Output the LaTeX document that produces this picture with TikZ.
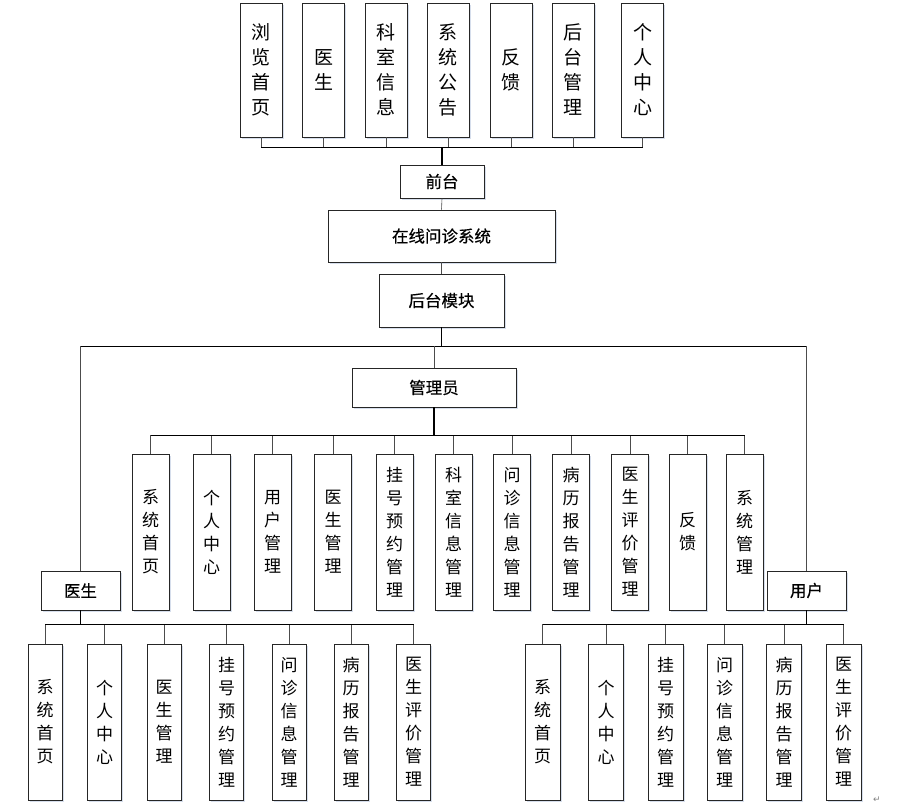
\documentclass[tikz,border=0pt]{standalone}
\usepackage{fontspec}
\setmainfont{Noto Sans CJK SC}
\newfontfamily\hfont[FakeBold=0.4]{Noto Sans CJK SC}
\newfontfamily\symfont{DejaVu Sans}
\usetikzlibrary{shadows}
\definecolor{shadowblue}{RGB}{214,222,236}
\tikzset{
  box/.style={draw=black!85, line width=0.9pt, fill=white, inner sep=0pt,
    drop shadow={shadow xshift=1.5pt, shadow yshift=-1.5pt, fill=shadowblue, opacity=1}},
  hbox/.style={box, font=\hfont\fontsize{16.5}{19}\selectfont},
  vbox/.style={box, align=center, font=\fontsize{17}{23}\selectfont},
  topbox/.style={box, align=center, font=\fontsize{19}{25}\selectfont,
    minimum width=42, minimum height=134},
  stem/.style={draw=black!70, line width=0.6pt},
  bus/.style={draw=black, line width=0.9pt},
  trunk/.style={draw=black, line width=1.6pt},
}

\begin{document}
\begin{tikzpicture}[x=1pt,y=-1pt]
  \useasboundingbox (0,0) rectangle (909,807);
  % bus levels
  \coordinate (tbus) at (0,147);
  \coordinate (split) at (0,346);
  \coordinate (abus) at (0,435);
  \coordinate (lbus) at (0,624);
  % front-end modules
  \foreach \n/\x/\lbl in {1/261/{浏\\览\\首\\页}, 2/323.5/{医\\生}, 3/386/{科\\室\\信\\息},
      4/448/{系\\统\\公\\告}, 5/511/{反\\馈}, 6/573/{后\\台\\管\\理}, 7/642.5/{个\\人\\中\\心}}{
    \node[topbox] (t\n) at (\x,70) {\lbl};
    \draw[stem] (t\n.south) -- (t\n.south |- tbus);}
  \draw[bus] (t1.south |- tbus) -- (t7.south |- tbus);
  % main chain
  \node[hbox, minimum width=84, minimum height=33] (front) at (442,181.5) {前台};
  \node[hbox, minimum width=227, minimum height=52] (sys) at (441.5,236) {在线问诊系统};
  \node[hbox, minimum width=125, minimum height=53] (back) at (441.5,300.5) {后台模块};
  \draw[trunk] (front.north) -- (front.north |- tbus);
  \draw[stem] (front.south) -- (sys.north);
  \draw[stem] (sys.south) -- (back.north);
  % roles
  \node[hbox, minimum width=164, minimum height=39] (admin) at (434,387.5) {管理员};
  \node[hbox, minimum width=79, minimum height=39] (doc) at (80.5,590.5) {医生};
  \node[hbox, minimum width=79, minimum height=39] (usr) at (806.5,590.5) {用户};
  \draw[trunk] (back.south) -- (back.south |- split);
  \draw[bus] (doc.north |- split) -- (usr.north |- split);
  \draw[stem] (doc.north) -- (doc.north |- split);
  \draw[stem] (usr.north) -- (usr.north |- split);
  \draw[stem] (admin.north) -- (admin.north |- split);
  % admin modules
  \foreach \n/\x/\lbl in {1/150.5/{系\\统\\首\\页}, 2/211.5/{个\\人\\中\\心}, 3/272.5/{用\\户\\管\\理},
      4/333/{医\\生\\管\\理}, 5/394.5/{挂\\号\\预\\约\\管\\理}, 6/453.5/{科\\室\\信\\息\\管\\理},
      7/512/{问\\诊\\信\\息\\管\\理}, 8/571/{病\\历\\报\\告\\管\\理}, 9/630/{医\\生\\评\\价\\管\\理},
      10/687.5/{反\\馈}, 11/744.5/{系\\统\\管\\理}}{
    \node[vbox, minimum width=37, minimum height=156] (a\n) at (\x,532) {\lbl};
    \draw[stem] (a\n.north) -- (a\n.north |- abus);}
  \draw[bus] (a1.north |- abus) -- (a11.north |- abus);
  \draw[trunk] (admin.south) -- (admin.south |- abus);
  % doctor modules
  \foreach \n/\x/\lbl in {1/45/{系\\统\\首\\页}, 2/104.5/{个\\人\\中\\心}, 3/164/{医\\生\\管\\理},
      4/226.5/{挂\\号\\预\\约\\管\\理}, 5/289/{问\\诊\\信\\息\\管\\理},
      6/351/{病\\历\\报\\告\\管\\理}, 7/413.5/{医\\生\\评\\价\\管\\理}}{
    \node[vbox, minimum width=34, minimum height=156] (d\n) at (\x,722) {\lbl};
    \draw[stem] (d\n.north) -- (d\n.north |- lbus);}
  \draw[bus] (d1.north |- lbus) -- (d7.north |- lbus);
  \draw[trunk] (doc.south) -- (doc.south |- lbus);
  % user modules
  \foreach \n/\x/\lbl in {1/542.5/{系\\统\\首\\页}, 2/606/{个\\人\\中\\心},
      3/665.5/{挂\\号\\预\\约\\管\\理}, 4/724.5/{问\\诊\\信\\息\\管\\理},
      5/784/{病\\历\\报\\告\\管\\理}, 6/843.5/{医\\生\\评\\价\\管\\理}}{
    \node[vbox, minimum width=35, minimum height=156] (u\n) at (\x,722) {\lbl};
    \draw[stem] (u\n.north) -- (u\n.north |- lbus);}
  \draw[bus] (u1.north |- lbus) -- (u6.north |- lbus);
  \draw[trunk] (usr.south) -- (usr.south |- lbus);
  % paragraph mark
  \node[font=\symfont\fontsize{9}{9}\selectfont, text=black!50] (ret) at (877,800) {↵};
\end{tikzpicture}
\end{document}
